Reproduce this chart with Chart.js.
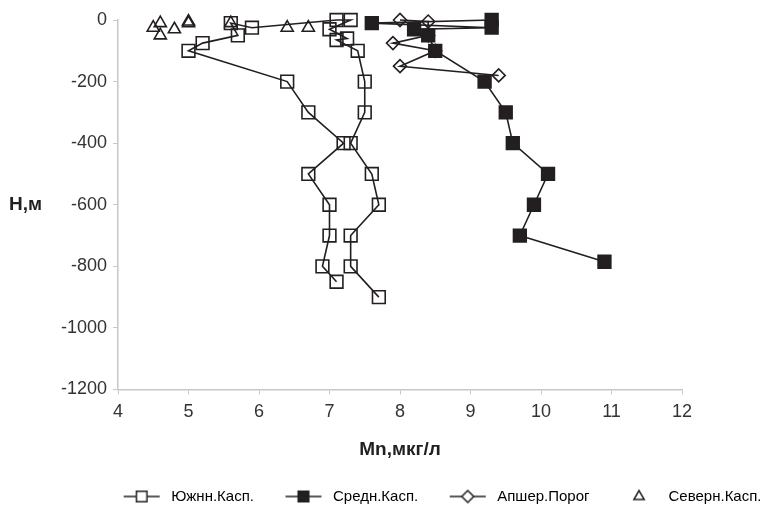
<!DOCTYPE html>
<html>
<head>
<meta charset="utf-8">
<script src="https://cdn.jsdelivr.net/npm/chart.js@4.4.0/dist/chart.umd.min.js"></script>
<style>
  html, body { margin: 0; padding: 0; background: #fff; overflow: hidden; }
  #wrap { width: 784px; height: 514px; }
</style>
</head>
<body>
<div id="wrap"><canvas id="mnChart"></canvas></div>
<script>
// Mn concentration (мкг/л) against depth H (м)
const seriesNames = ['Южнн.Касп.', 'Средн.Касп.', 'Апшер.Порог', 'Северн.Касп.'];

const southMn = [7.1, 6.9, 7.0, 7.0, 6.7, 7.2, 6.7, 6.4, 5.0, 5.2, 5.7, 5.6, 5.9, 7.1, 7.3, 7.0, 7.25, 7.1, 7.4, 7.5, 7.5, 7.3, 7.6, 7.7, 7.3, 7.3, 7.7];
const southH  = [-850, -800, -700, -600, -500, -400, -300, -200, -100, -75, -50, -10, -25, 0, 0, -30, -60, -65, -100, -200, -300, -400, -500, -600, -700, -800, -900];

const middleMn = [9.3, 7.6, 9.3, 8.2, 8.4, 8.5, 9.2, 9.5, 9.6, 10.1, 9.9, 9.7, 10.9];
const middleH  = [0, -10, -25, -30, -50, -100, -200, -300, -400, -500, -600, -700, -785];

const apsheronMn = [8.0, 8.4, 8.4, 7.9, 8.5, 8.0, 9.4];
const apsheronH  = [0, -5, -50, -75, -100, -150, -180];

const northMn = [4.5, 4.6, 4.6, 4.8, 5.0, 5.0, 5.6, 6.4, 6.7];
const northH  = [-25, -10, -50, -30, -5, -10, -10, -25, -25];

const xTickValues = [4, 5, 6, 7, 8, 9, 10, 11, 12];
const yTickValues = [-1200, -1000, -800, -600, -400, -200, 0];

const INK = '#231f20';
const FONT = "'Liberation Sans', Arial, sans-serif";

const toPoints = (xs, ys) => xs.map((x, i) => ({ x: x, y: ys[i] }));

const pointSpecs = [
  { style: 'rect', radius: 9, fill: 'rgba(0,0,0,0)', line: true },
  { style: 'rect', radius: 9, fill: INK, line: true },
  { style: 'rectRot', radius: 6.5, fill: 'rgba(0,0,0,0)', line: true },
  { style: 'triangle', radius: 7, fill: 'rgba(0,0,0,0)', line: false }
];

// small canvas used as the legend symbol: line - marker - line
const makeLegendIcon = (spec) => {
  const c = document.createElement('canvas');
  c.width = 44;
  c.height = 16;
  const g = c.getContext('2d');
  g.strokeStyle = INK;
  g.lineWidth = 1.5;
  if (spec.line) {
    g.beginPath();
    g.moveTo(4, 8);
    g.lineTo(40, 8);
    g.stroke();
  }
  g.fillStyle = spec.fill === INK ? INK : '#fff';
  Chart.helpers.drawPoint(g, {
    pointStyle: spec.style,
    radius: spec.style === 'rect' ? 7.5 : 6,
    borderWidth: 1.5,
    rotation: 0
  }, 22, 8);
  return c;
};

const legendIcons = pointSpecs.map(makeLegendIcon);

const seriesData = [
  toPoints(southMn, southH),
  toPoints(middleMn, middleH),
  toPoints(apsheronMn, apsheronH),
  toPoints(northMn, northH)
];

const datasets = seriesData.map((data, i) => ({
  label: seriesNames[i],
  data: data,
  showLine: pointSpecs[i].line,
  borderColor: INK,
  borderWidth: 1.6,
  backgroundColor: pointSpecs[i].fill,
  pointStyle: pointSpecs[i].style,
  pointRadius: pointSpecs[i].radius,
  pointHoverRadius: pointSpecs[i].radius,
  pointBorderColor: INK,
  pointBackgroundColor: pointSpecs[i].fill,
  pointBorderWidth: 1.6,
  tension: 0,
  clip: false
}));

// horizontal "H,м" title beside the value axis
const yTitlePlugin = {
  id: 'yTitle',
  afterDraw(chart) {
    const { ctx, chartArea } = chart;
    ctx.save();
    ctx.font = 'bold 19px ' + FONT;
    ctx.fillStyle = INK;
    ctx.textAlign = 'left';
    ctx.textBaseline = 'middle';
    ctx.fillText('H,м', 9, (chartArea.top + chartArea.bottom) / 2);
    ctx.restore();
  }
};

// legend row runs on to the right edge
const legendShift = {
  id: 'legendShift',
  afterLayout(chart) {
    chart.legend.left += 5;
    chart.legend.right += 5;
  }
};

new Chart(document.getElementById('mnChart'), {
  type: 'scatter',
  data: { datasets: datasets },
  plugins: [yTitlePlugin, legendShift],
  options: {
    responsive: true,
    maintainAspectRatio: false,
    animation: false,
    layout: { padding: { left: 0, right: 0, top: 20, bottom: 0 } },
    scales: {
      x: {
        type: 'linear',
        min: 4,
        max: 12,
        afterBuildTicks: (s) => { s.ticks = xTickValues.map(v => ({ value: v })); },
        afterFit: (s) => { s.height = 72; },
        grid: { drawOnChartArea: false, drawTicks: true, tickLength: 5, color: '#c8c8c8' },
        border: { display: true, color: '#c8c8c8', width: 1.5 },
        ticks: { color: '#333', padding: 7, font: { size: 18, family: FONT }, callback: (v) => String(v) },
        title: {
          display: true,
          text: 'Mn,мкг/л',
          color: INK,
          font: { size: 19, weight: 'bold', family: FONT },
          padding: { top: 0, bottom: 0 }
        }
      },
      y: {
        type: 'linear',
        min: -1200,
        max: 0,
        afterBuildTicks: (s) => { s.ticks = yTickValues.map(v => ({ value: v })); },
        afterFit: (s) => { s.width = 118; },
        grid: { drawOnChartArea: false, drawTicks: true, tickLength: 5, color: '#c8c8c8' },
        border: { display: true, color: '#c8c8c8', width: 1.5 },
        ticks: { color: '#333', padding: 6, font: { size: 18, family: FONT }, callback: (v) => String(v) }
      },
      spacer: {
        type: 'linear',
        position: 'right',
        display: true,
        afterFit: (s) => { s.width = 102; },
        grid: { display: false, drawTicks: false },
        border: { display: false },
        ticks: { display: false }
      }
    },
    plugins: {
      legend: {
        position: 'bottom',
        align: 'end',
        labels: {
          usePointStyle: true,
          pointStyleWidth: 44,
          boxHeight: 14,
          padding: 27.5,
          color: INK,
          font: { size: 15, family: FONT },
          generateLabels: (chart) => chart.data.datasets.map((ds, i) => ({
            text: ds.label,
            pointStyle: legendIcons[i],
            fillStyle: 'rgba(0,0,0,0)',
            strokeStyle: 'rgba(0,0,0,0)',
            lineWidth: 0,
            hidden: false,
            datasetIndex: i
          }))
        }
      },
      tooltip: { enabled: false }
    }
  }
});
</script>
</body>
</html>
